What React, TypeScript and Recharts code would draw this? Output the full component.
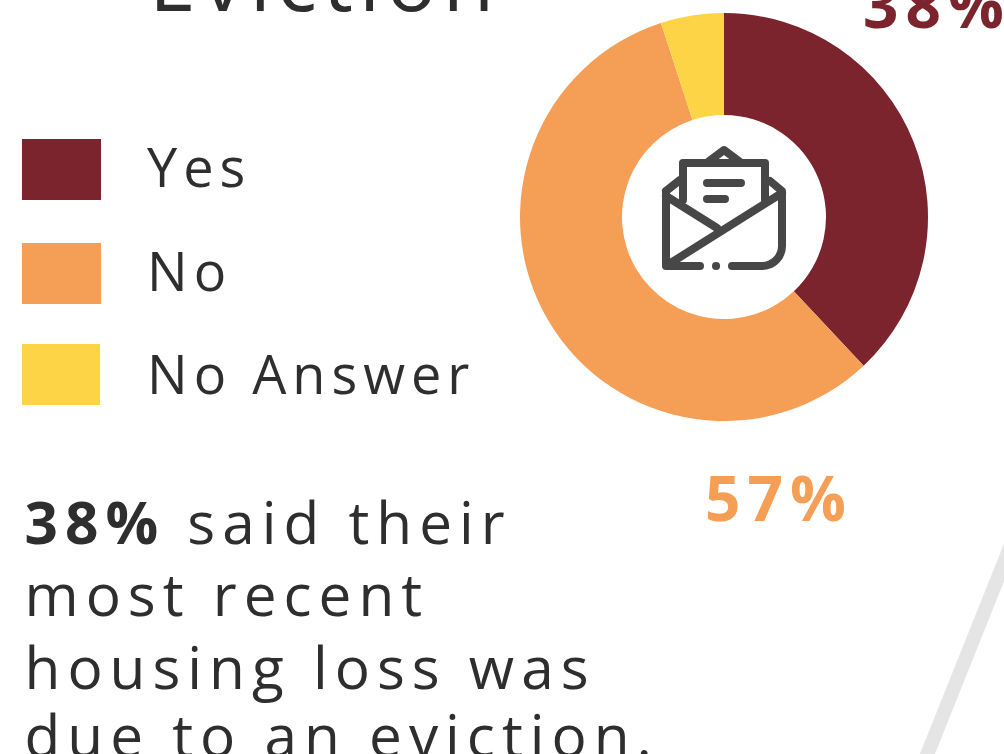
import React from "react";
import { PieChart, Pie, Cell, Customized } from "recharts";

const categories = ["Yes", "No", "No Answer"];
const values = [38, 57, 5];
const colors = ["#7b242d", "#f59e56", "#fdd445"];
const legendY = [139, 243, 344];
const legendLabelY = [187, 291, 394];
const bodyLines = ["most recent", "housing loss was", "due to an eviction."];
const bodyY = [616, 689, 757];
const font = "'Open Sans', sans-serif";
const ink = "#2e2e2e";
const iconInk = "#474747";

function Overlay() {
  return (
    <g fontFamily={font}>
      <text x={149} y={11} fontSize={84} letterSpacing={6} fill={ink}>Eviction</text>
      <text x={863} y={28} fontSize={62} fontWeight={700} letterSpacing={7} fill="#7b242d">38%</text>
      <text x={705} y={521} fontSize={62} fontWeight={700} letterSpacing={7} fill="#f59e56">57%</text>
      {categories.map((c, i) => (
        <g key={c}>
          <rect x={22} y={legendY[i]} width={i === 2 ? 78 : 79} height={61} fill={colors[i]} />
          <text x={147} y={legendLabelY[i]} fontSize={54} letterSpacing={6} fill={ink}>{c}</text>
        </g>
      ))}
      <text x={24.5} y={544} fontSize={58.5} letterSpacing={7} fill={ink}>
        <tspan fontWeight={700}>38%</tspan>
        <tspan> said their</tspan>
      </text>
      {bodyLines.map((t, i) => (
        <text key={t} x={24.5} y={bodyY[i]} fontSize={58.5} letterSpacing={7} fill={ink}>{t}</text>
      ))}
      <line x1={1021} y1={520} x2={925} y2={760} stroke="#e5e5e5" strokeWidth={14} />
      <g fill="none" stroke={iconInk} strokeWidth={8} strokeLinecap="round" strokeLinejoin="round">
        <path d="M683 200V163H765V200" />
        <path d="M666 192V266H700" />
        <path d="M732 266H762C773 266 782 257 782 246V191L770 181" />
        <path d="M666 191L680 180M708 162L724 150L740 162" />
        <path d="M666 196L717 228" />
        <path d="M669 264L782 193" />
        <path d="M707 183H741M707 199H725" />
        <path d="M716 266H716.1" />
      </g>
    </g>
  );
}

export default function App() {
  const data = categories.map((name, i) => ({ name, value: values[i] }));
  return (
    <div style={{ position: "absolute", left: 0, top: 0 }}>
      <PieChart width={1004} height={754} margin={{ top: 0, right: 0, bottom: 0, left: 0 }}>
        <Pie
          data={data}
          dataKey="value"
          cx={724}
          cy={217}
          innerRadius={102}
          outerRadius={204}
          startAngle={90}
          endAngle={-270}
          stroke="none"
          isAnimationActive={false}
        >
          {data.map((d, i) => <Cell key={d.name} fill={colors[i]} />)}
        </Pie>
        <Customized component={Overlay} />
      </PieChart>
    </div>
  );
}
